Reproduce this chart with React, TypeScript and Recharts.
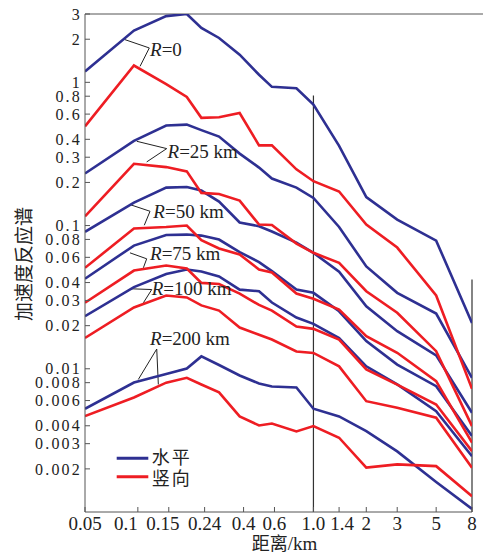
import React from 'react';
import { LineChart, Line, XAxis, YAxis, ReferenceLine, ReferenceDot, Label } from 'recharts';

// distance grid (km)
const distances = [0.05, 0.095, 0.145, 0.19, 0.23, 0.29, 0.38, 0.49, 0.58, 0.8, 1.0, 1.4, 2, 3, 5, 8];

// horizontal (水平) spectra
const h0 = [1.19, 2.3, 2.9, 3.0, 2.4, 2.04, 1.56, 1.13, 0.93, 0.91, 0.70, 0.36, 0.158, 0.110, 0.0785, 0.0209];
const h25 = [0.231, 0.39, 0.499, 0.507, 0.464, 0.418, 0.318, 0.254, 0.213, 0.184, 0.156, 0.0977, 0.0518, 0.0339, 0.0243, 0.00865];
const h50 = [0.0904, 0.1447, 0.184, 0.186, 0.1755, 0.147, 0.105, 0.0989, 0.0908, 0.076, 0.0645, 0.0477, 0.0273, 0.0183, 0.0124, 0.00493];
const h75 = [0.0425, 0.0725, 0.0859, 0.0865, 0.0851, 0.0798, 0.0653, 0.0556, 0.0481, 0.0357, 0.0339, 0.0252, 0.0156, 0.0107, 0.00756, 0.00339];
const h100 = [0.0233, 0.0372, 0.0459, 0.0493, 0.0478, 0.0441, 0.0357, 0.0348, 0.029, 0.0228, 0.0206, 0.0164, 0.0104, 0.00777, 0.00506, 0.00245];
const h200 = [0.00526, 0.00802, 0.0092, 0.01005, 0.0122, 0.01063, 0.00898, 0.00789, 0.00753, 0.0074, 0.00526, 0.00465, 0.00367, 0.00265, 0.00162, 0.00105];

// vertical (竖向) spectra
const v0 = [0.493, 1.31, 0.97, 0.79, 0.565, 0.57, 0.61, 0.363, 0.363, 0.247, 0.204, 0.173, 0.1016, 0.0702, 0.0325, 0.00725];
const v25 = [0.116, 0.27, 0.256, 0.239, 0.169, 0.166, 0.1494, 0.1016, 0.101, 0.0748, 0.0645, 0.0549, 0.0348, 0.0246, 0.01327, 0.00398];
const v50 = [0.0507, 0.0953, 0.0976, 0.1, 0.0792, 0.0691, 0.0628, 0.0493, 0.047, 0.0335, 0.0308, 0.0259, 0.0169, 0.01294, 0.0082, 0.00305];
const v75 = [0.0289, 0.0485, 0.0526, 0.0501, 0.0398, 0.0391, 0.0335, 0.0279, 0.0255, 0.0197, 0.019, 0.016, 0.00989, 0.00776, 0.00563, 0.00266];
const v100 = [0.0164, 0.0268, 0.0325, 0.0315, 0.0277, 0.0255, 0.0194, 0.0173, 0.016, 0.0132, 0.0129, 0.0104, 0.00594, 0.00535, 0.00455, 0.00204];
const v200 = [0.00467, 0.0063, 0.008, 0.00865, 0.00776, 0.00684, 0.00465, 0.00402, 0.00415, 0.00365, 0.00398, 0.0033, 0.00204, 0.00215, 0.00209, 0.00129];

const xTicks = [0.05, 0.1, 0.15, 0.24, 0.4, 0.6, 1.0, 1.4, 2, 3, 5, 8];
const yTicks = [0.002, 0.003, 0.004, 0.006, 0.008, 0.01, 0.02, 0.03, 0.04, 0.06, 0.08, 0.1, 0.2, 0.3, 0.4, 0.6, 0.8, 1, 2, 3];

// annotation labels "R=..." (data coords of text start / baseline)
const labelNames = ['0', '25 km', '50 km', '75 km', '100 km', '200 km'];
const labelX = [0.1173, 0.1476, 0.1225, 0.1173, 0.12, 0.1173];
const labelY = [1.523, 0.2958, 0.1128, 0.0579, 0.033, 0.01454];
// leader lines: [from, corner, to]
const leaders = [
  [{ x: 0.0845, y: 1.986 }, { x: 0.1162, y: 1.738 }, { x: 0.1029, y: 1.293 }],
  [{ x: 0.0986, y: 0.3876 }, { x: 0.146, y: 0.3446 }, { x: 0.1123, y: 0.2782 }],
  [{ x: 0.0902, y: 0.1401 }, { x: 0.1173, y: 0.1258 }, { x: 0.1088, y: 0.1005 }],
  [{ x: 0.0902, y: 0.0645 }, { x: 0.1123, y: 0.0586 }, { x: 0.1075, y: 0.0507 }],
  [{ x: 0.0902, y: 0.0362 }, { x: 0.12, y: 0.03575 }, { x: 0.1075, y: 0.02888 }],
  [{ x: 0.1006, y: 0.00842 }, { x: 0.1281, y: 0.01374 }, { x: 0.1308, y: 0.00777 }],
];

const BLUE = '#2E3092';
const RED = '#EE1D23';
const SERIF = '"Liberation Serif", "Times New Roman", serif';
const CJK = '"Noto Sans CJK SC", sans-serif';

const horizontal = [h0, h25, h50, h75, h100, h200];
const vertical = [v0, v25, v50, v75, v100, v200];

const data = distances.map((x, i) => {
  const row: any = { x };
  horizontal.forEach((s, k) => (row['h' + k] = s[i]));
  vertical.forEach((s, k) => (row['v' + k] = s[i]));
  return row;
});

const fmtX = (v: number) => (v === 1 ? '1.0' : String(v));
const xShift: Record<string, number> = { '0.1': -12, '0.15': -6, '1.4': 3 };

function XTick(props: any) {
  const { x, y, payload } = props;
  const label = fmtX(payload.value);
  return (
    <text x={x + (xShift[label] ?? 0)} y={y} dy="0.71em" textAnchor="middle" fontFamily={SERIF} fontSize={19} fill="#222">
      {label}
    </text>
  );
}

function YTick(props: any) {
  const { x, y, payload } = props;
  return (
    <text x={x + 2} y={y} dy="0.355em" textAnchor="end" fontFamily={SERIF} fontSize={16} letterSpacing={2.2} fill="#222">
      {String(payload.value)}
    </text>
  );
}

const XTitle = (props: any) => {
  const vb = props.viewBox;
  return (
    <text x={vb.x + vb.width / 2 + 6} y={vb.y + 38} textAnchor="middle" fontSize={18} fill="#222">
      <tspan fontFamily={CJK}>距离</tspan>
      <tspan fontFamily={SERIF} fontSize={19}>/km</tspan>
    </text>
  );
};

const YTitle = (props: any) => {
  const vb = props.viewBox;
  const cx = vb.x + 22;
  const cy = vb.y + vb.height / 2 + 1;
  return (
    <text x={cx} y={cy} textAnchor="middle" dominantBaseline="central" transform={`rotate(-90, ${cx}, ${cy})`} fontFamily={CJK} fontSize={19} fill="#222">
      加速度反应谱
    </text>
  );
};

const makeLabelShape = (name: string) => (p: any) => (
  <text x={p.cx} y={p.cy} fontFamily={SERIF} fontSize={19} fill="#222">
    <tspan fontStyle="italic">R</tspan>
    <tspan>={name}</tspan>
  </text>
);

export default function App() {
  return (
    <div style={{ position: 'absolute', left: 0, top: 0, width: 483, height: 555, background: '#fff' }}>
      <LineChart width={483} height={555} data={data} margin={{ top: 14, right: 11, left: 0, bottom: 0 }}>
        <XAxis
          dataKey="x"
          type="number"
          scale="log"
          domain={[0.05, 8]}
          allowDataOverflow
          ticks={xTicks}
          interval={0}
          height={43}
          tickSize={-5}
          tickMargin={10}
          tick={<XTick />}
          axisLine={{ stroke: '#555' }}
          tickLine={{ stroke: '#555' }}
        >
          <Label content={<XTitle />} />
        </XAxis>
        <YAxis
          type="number"
          scale="log"
          domain={[0.001, 3]}
          allowDataOverflow
          ticks={yTicks}
          interval={0}
          width={85}
          tickSize={-5}
          tickMargin={10}
          tick={<YTick />}
          axisLine={{ stroke: '#555' }}
          tickLine={{ stroke: '#555' }}
        >
          <Label content={<YTitle />} />
        </YAxis>

        <ReferenceLine segment={[{ x: 0.05, y: 3 }, { x: 9.24, y: 3 }]} stroke="#555" strokeWidth={1} ifOverflow="visible" />
        <ReferenceLine segment={[{ x: 1, y: 0.808 }, { x: 1, y: 0.001 }]} stroke="#333" strokeWidth={1.2} ifOverflow="visible" />
        <ReferenceLine segment={[{ x: 8, y: 0.042 }, { x: 8, y: 0.001 }]} stroke="#333" strokeWidth={1.2} ifOverflow="visible" />

        {leaders.map((pts, i) => (
          <ReferenceLine key={'la' + i} segment={[pts[0], pts[1]]} stroke="#222" strokeWidth={1} ifOverflow="visible" />
        ))}
        {leaders.map((pts, i) => (
          <ReferenceLine key={'lb' + i} segment={[pts[1], pts[2]]} stroke="#222" strokeWidth={1} ifOverflow="visible" />
        ))}

        {horizontal.map((_, k) => (
          <Line key={'h' + k} dataKey={'h' + k} stroke={BLUE} strokeWidth={2.6} dot={false} isAnimationActive={false} type="linear" />
        ))}
        {vertical.map((_, k) => (
          <Line key={'v' + k} dataKey={'v' + k} stroke={RED} strokeWidth={2.6} dot={false} isAnimationActive={false} type="linear" />
        ))}

        {labelNames.map((n, i) => (
          <ReferenceDot key={'t' + i} x={labelX[i]} y={labelY[i]} r={0} ifOverflow="visible" shape={makeLabelShape(n)} />
        ))}
      </LineChart>
      <svg style={{ position: 'absolute', left: 110, top: 444 }} width={100} height={46}>
        <line x1={6.7} x2={38.3} y1={14.3} y2={14.3} stroke={BLUE} strokeWidth={3} />
        <text x={41.7} y={12} dominantBaseline="central" fontFamily={CJK} fontSize={18} letterSpacing={2} fill="#222">水平</text>
        <line x1={6.7} x2={38.3} y1={32.7} y2={32.7} stroke={RED} strokeWidth={3} />
        <text x={41.7} y={33} dominantBaseline="central" fontFamily={CJK} fontSize={18} letterSpacing={2} fill="#222">竖向</text>
      </svg>
    </div>
  );
}
